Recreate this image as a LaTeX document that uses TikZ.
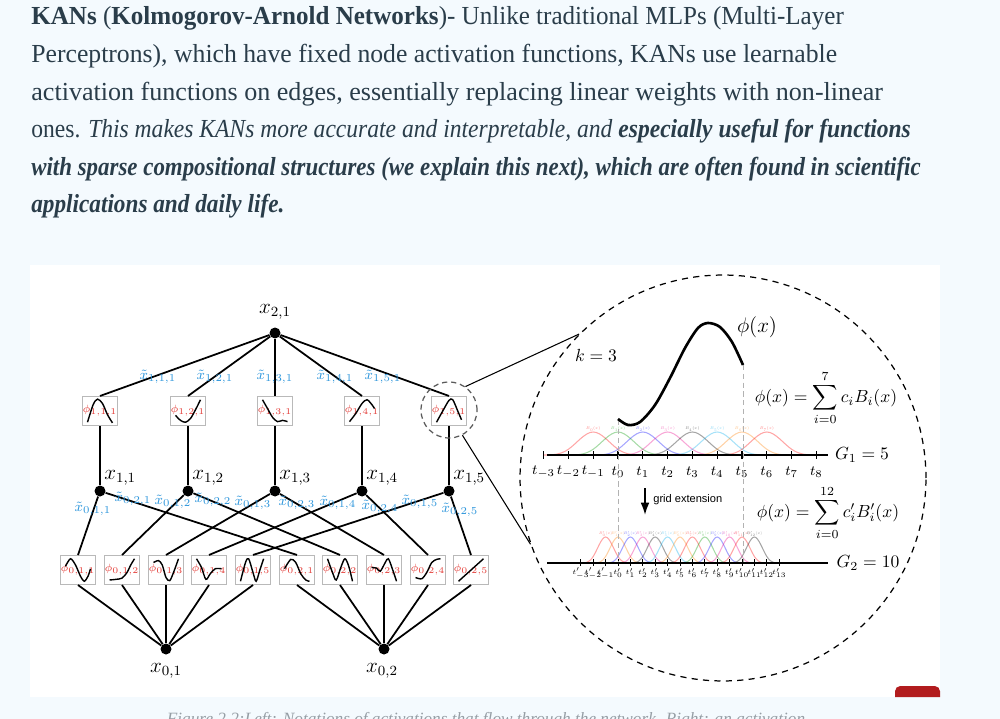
\documentclass[tikz,border=0pt]{standalone}
\usepackage{amsmath}
\usepackage{graphicx}
\usepackage{fontspec}
\setmainfont{Liberation Serif}
\newfontfamily\helv{Liberation Sans}
\usepackage{tikz}
\usetikzlibrary{arrows.meta}

\definecolor{pagebg}{RGB}{244,250,254}
\definecolor{ink}{RGB}{42,61,74}
\definecolor{wblue}{RGB}{45,150,220}
\definecolor{fred}{RGB}{228,60,55}
\definecolor{tabred}{RGB}{178,28,30}
\definecolor{capgray}{RGB}{150,158,165}

\newcommand{\fitline}[2]{\resizebox{#1pt}{\height}{#2}}

\tikzset{
  para/.style={anchor=base west,inner sep=0,text=ink,font=\fontsize{14.8}{18}\selectfont},
  neuron/.style={circle,fill=black,inner sep=0,minimum size=0.22cm},
  actbox/.style={draw=gray!55,fill=white,minimum size=0.58cm,inner sep=0,line width=0.6pt,text=fred,font=\fontsize{6.5}{6.5}\selectfont},
  xlab/.style={inner sep=0,font=\fontsize{12}{12}\selectfont},
  wlab/.style={inner sep=0,text=wblue,font=\fontsize{8}{8}\selectfont},
  flab/.style={inner sep=0,font=\fontsize{10}{10}\selectfont},
  tlab/.style={inner sep=0,font=\fontsize{8}{8}\selectfont},
  tplab/.style={inner sep=0,font=\fontsize{5}{5}\selectfont},
  blab/.style={inner sep=0,opacity=0.45,font=\fontsize{5}{5}\selectfont},
  fn/.style={shift={(#1.center)},x=0.25cm,y=0.25cm,line width=0.8pt},
  edge/.style={line width=1pt},
  declare function={bsp(\u)=ifthenelse(abs(\u)<1,(4-6*abs(\u)^2+3*abs(\u)^3)/4,(2-abs(\u))^3/4);}
}

\begin{document}
\begin{tikzpicture}[x=0.02cm,y=-0.02cm]
\useasboundingbox (0,0) rectangle (1000,719);
\fill[pagebg] (0,0) rectangle (1000,719);

% paragraph above the figure
\node[para] (l1) at (31,25) {\fitline{462.4}{\textbf{KANs} (\textbf{Kolmogorov-Arnold Networks})- Unlike traditional MLPs (Multi-Layer}};
\node[para] (l2) at (31,63) {\fitline{458.6}{Perceptrons), which have fixed node activation functions, KANs use learnable}};
\node[para] (l3) at (31,101) {\fitline{484.7}{activation functions on edges, essentially replacing linear weights with non-linear}};
\node[para] (l4) at (31,138) {\fitline{500.6}{ones. \textit{This makes KANs more accurate and interpretable, and} \textbf{\textit{especially useful for functions}}}};
\node[para] (l5) at (31,176) {\fitline{506.2}{\textbf{\textit{with sparse compositional structures (we explain this next), which are often found in scientific}}}};
\node[para] (l6) at (31,213) {\fitline{144.0}{\textbf{\textit{applications and daily life.}}}};

\fill[white] (30,265) rectangle (940,697);
\fill[tabred] (895,697) [rounded corners=3] |- (940,686) [sharp corners] -- (940,697) -- cycle;
\node[anchor=base,text=capgray,font=\itshape\fontsize{9.8}{10}\selectfont] (cap) at (486,724) {Figure 2.2:Left: Notations of activations that flow through the network. Right: an activation};

% network
\node[neuron] (x21) at (275,333) {};
\node[xlab] (lx21) at (275,312) {$x_{2,1}$};
\foreach \j/\px in {1/100,2/188,3/275,4/362,5/449} {
  \node[actbox] (p1\j1) at (\px,411) {$\phi_{1,\j,1}$};
  \node[neuron] (x1\j) at (\px,491) {};
  \node[xlab,anchor=west] (lx1\j) at ({\px+4},478) {$x_{1,\j}$};
}
\foreach \i/\j/\px in {1/1/78,1/2/122,1/3/166,1/4/209,1/5/253,2/1/297,2/2/340,2/3/384,2/4/428,2/5/471}
  \node[actbox] (p0\i\j) at (\px,570) {$\phi_{0,\i,\j}$};
\node[neuron] (x01) at (166,649) {};
\node[neuron] (x02) at (384,649) {};
\node[xlab] (lx01) at (166,671) {$x_{0,1}$};
\node[xlab] (lx02) at (382,671) {$x_{0,2}$};

\foreach \j in {1,...,5} {
  \draw[edge] (x21) -- (p1\j1.north);
  \draw[edge] (p1\j1.south) -- (x1\j);
  \draw[edge] (x1\j) -- (p01\j.north);
  \draw[edge] (x1\j) -- (p02\j.north);
  \draw[edge] (p01\j.south) -- (x01);
  \draw[edge] (p02\j.south) -- (x02);
}

\foreach \j/\px in {1/158,2/215,3/275,4/335,5/383}
  \node[wlab] (w1\j1) at (\px,377) {$\tilde{x}_{1,\j,1}$};
\foreach \i/\j/\px/\py in {1/1/93/509,2/1/133/499,1/2/173/502,2/2/213/500,1/3/253/503,2/3/297/503,1/4/338/503,2/4/380/507,1/5/420/502,2/5/460/510}
  \node[wlab] (w0\i\j) at (\px,\py) {$\tilde{x}_{0,\i,\j}$};

% curves in the boxes
\draw[fn=p111] plot[smooth] coordinates {(-1,-0.9) (-0.55,0.5) (-0.2,0.95) (0.2,0.6) (0.6,-0.3) (1,-0.95)};
\draw[fn=p121] plot[smooth] coordinates {(-1,-0.35) (-0.6,-0.75) (-0.2,-0.9) (0.2,-0.6) (0.6,0.1) (1,0.9)};
\draw[fn=p131] plot[smooth] coordinates {(-1,0.9) (-0.6,0.2) (-0.2,-0.5) (0.2,-0.85) (0.6,-0.75) (1,-0.85)};
\draw[fn=p141] plot[smooth] coordinates {(-1,-0.85) (-0.5,-0.2) (0,0.6) (0.4,0.9) (0.8,0.5) (1,0.2)};
\draw[fn=p151] plot[smooth] coordinates {(-1,-0.9) (-0.5,0) (0,0.85) (0.3,0.9) (0.7,0) (1,-0.7)};
\draw[fn=p011] plot[smooth] coordinates {(-1,0.3) (-0.6,0.9) (-0.2,0.4) (0.2,-0.5) (0.5,-0.9) (0.8,-0.5) (1,0.1)};
\draw[fn=p012] plot[smooth] coordinates {(-1,-0.8) (-0.5,-0.75) (0,-0.65) (0.4,-0.2) (0.7,0.4) (1,0.9)};
\draw[fn=p013] plot[smooth] coordinates {(-1,0.6) (-0.6,0.75) (-0.3,0.4) (0,-0.6) (0.3,-0.85) (0.6,-0.2) (1,0.9)};
\draw[fn=p014] plot[smooth] coordinates {(-1,0.9) (-0.6,0.2) (-0.25,-0.75) (0.1,-0.3) (0.5,0.1) (1,0.1)};
\draw[fn=p015] plot[smooth] coordinates {(-1,-0.9) (-0.6,0.6) (-0.35,0.9) (0,-0.2) (0.25,-0.9) (0.55,0) (0.85,0.9)};
\draw[fn=p021] plot[smooth] coordinates {(-1,0.1) (-0.5,0.85) (-0.1,0.6) (0.3,-0.3) (0.7,-0.8) (1,-0.9)};
\draw[fn=p022] plot[smooth] coordinates {(-1,0.9) (-0.6,-0.2) (-0.3,-0.8) (0.1,0.3) (0.4,0.9) (0.7,0.3) (1,-0.9)};
\draw[fn=p023] plot[smooth] coordinates {(-1,0.2) (-0.6,0.15) (-0.3,-0.1) (0.1,0.6) (0.35,0.9) (0.7,0) (1,-0.9)};
\draw[fn=p024] plot[smooth] coordinates {(-1,-0.6) (-0.5,-0.7) (-0.1,-0.2) (0.3,0.6) (0.7,0.85) (1,0.9)};
\draw[fn=p025] (-1,-0.9) -- (1,0.9);

% zoom onto phi_{1,5,1}
\node[circle,draw=gray!70!black,dash pattern=on 3pt off 2.2pt,line width=0.7pt,minimum size=1.12cm] (zsrc) at (449,410) {};
\node[circle,draw,dash pattern=on 3.5pt off 3pt,line width=0.7pt,minimum size=8.12cm] (zdst) at (723,478) {};
\draw[line width=0.6pt] (zsrc.55) -- (zdst.135);
\draw[line width=0.6pt] (zsrc.-62) -- (zdst.199);

% coarse grid
\foreach \nb/\col in {0/red,1/green!60!black,2/blue,3/magenta,4/black,5/cyan,6/orange,7/red} {
  \draw[\col,opacity=0.35,line width=0.6pt] plot[domain=-2:2,samples=33,smooth] ({618+24.8*(\nb-1)+24.8*\x},{455-23*bsp(\x)});
  \node[blab,text=\col] (b\nb) at ({618+24.8*(\nb-1)},429) {\scalebox{0.45}{$B_{\nb}(x)$}};
}
\draw[line width=1.4pt] (547,455) -- (828,455);
\foreach \i [count=\n] in {-3,...,8} {
  \draw[line width=0.6pt] ({618+24.8*\i},451) -- ({618+24.8*\i},459);
  \node[tlab] (t\n) at ({618+24.8*\i},472) {$t_{\i}$};
}

% fine grid
\foreach \nb/\col in {0/red,1/orange,2/blue,3/magenta,4/black,5/cyan,6/orange,7/red,8/green!60!black,9/blue,10/magenta,11/red,12/black} {
  \draw[\col,opacity=0.35,line width=0.6pt] plot[domain=-2:2,samples=33,smooth] ({618+12.4*(\nb-1)+12.4*\x},{563-26*bsp(\x)});
  \node[blab,text=\col] (bb\nb) at ({618+12.4*(\nb-1)},534) {\scalebox{0.42}{$B'_{\nb}(x)$}};
}
\draw[line width=1.4pt] (547,563) -- (828,563);
\foreach \i [count=\n] in {-3,...,13} {
  \draw[line width=0.5pt] ({618+12.4*\i},559) -- ({618+12.4*\i},566);
  \node[tplab] (tp\n) at ({618+12.4*\i},573) {\scalebox{0.8}{$t'_{\i}$}};
}

\draw[gray!60,dash pattern=on 3pt off 2pt] (618,420) -- (618,562);
\draw[gray!60,dash pattern=on 3pt off 2pt] (743,365) -- (743,562);
\draw[line width=1.5pt] plot[smooth] coordinates {(618,419) (628,425) (640,422) (655,405) (670,378) (685,348) (698,328) (708,323) (720,327) (732,342) (743,365)};

\node[flab] (klab) at (596,355) {$k=3$};
\node[inner sep=0,font=\fontsize{11.5}{11.5}\selectfont] (philab) at (757,327) {$\phi(x)$};
\node[flab] (eq1) at (826,398) {$\displaystyle\phi(x)=\sum_{i=0}^{7}c_iB_i(x)$};
\node[flab] (g1) at (862,455) {$G_1=5$};
\node[flab] (eq2) at (828,513) {$\displaystyle\phi(x)=\sum_{i=0}^{12}c'_iB'_i(x)$};
\node[flab] (g2) at (868,563) {$G_2=10$};
\draw[-{Latex[length=7pt,width=5pt]},line width=1pt] (645,488) coordinate (ga) -- (645,515) coordinate (gb);
\node[anchor=west,inner sep=0,font=\helv\fontsize{6.3}{6.3}\selectfont] (gext) at (653,500) {grid extension};
\end{tikzpicture}
\end{document}
